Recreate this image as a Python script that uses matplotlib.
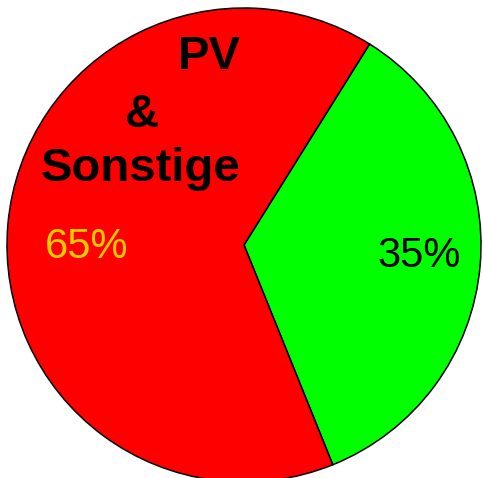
import matplotlib.pyplot as plt

# data
labels = ["Sonstige", "PV & Sonstige"]
values = [35, 65]
colors = ["#00ff00", "#ff0000"]

W, H = 483, 478
fig = plt.figure(figsize=(W / 100, H / 100), dpi=100)

# pie centre at pixel (244, 245), radius about 237 px
cx, cy, r = 244, 245, 237
ax = fig.add_axes([(cx - r) / W, (H - cy - r) / H, 2 * r / W, 2 * r / H])

ax.pie(values, colors=colors, startangle=58, counterclock=False, radius=1,
       wedgeprops=dict(edgecolor="black", linewidth=1.1))
ax.set_xlim(-1, 1)
ax.set_ylim(-1, 1)
ax.set_aspect("auto")
ax.axis("off")

font = "Liberation Sans"
ax.text(-0.148, 0.793, "PV", ha="center", va="center", fontsize=34,
        fontweight="bold", family=font)
ax.text(-0.43, 0.55, "&", ha="center", va="center", fontsize=34,
        fontweight="bold", family=font)
ax.text(-0.435, 0.322, "Sonstige", ha="center", va="center", fontsize=34,
        fontweight="bold", family=font)
ax.text(-0.662, -0.008, f"{values[1]}%", ha="center", va="center",
        fontsize=30, color="#ffcc00", family=font)
ax.text(0.738, -0.045, f"{values[0]}%", ha="center", va="center",
        fontsize=30, color="black", family=font)

fig.savefig("out.png", dpi=100)
